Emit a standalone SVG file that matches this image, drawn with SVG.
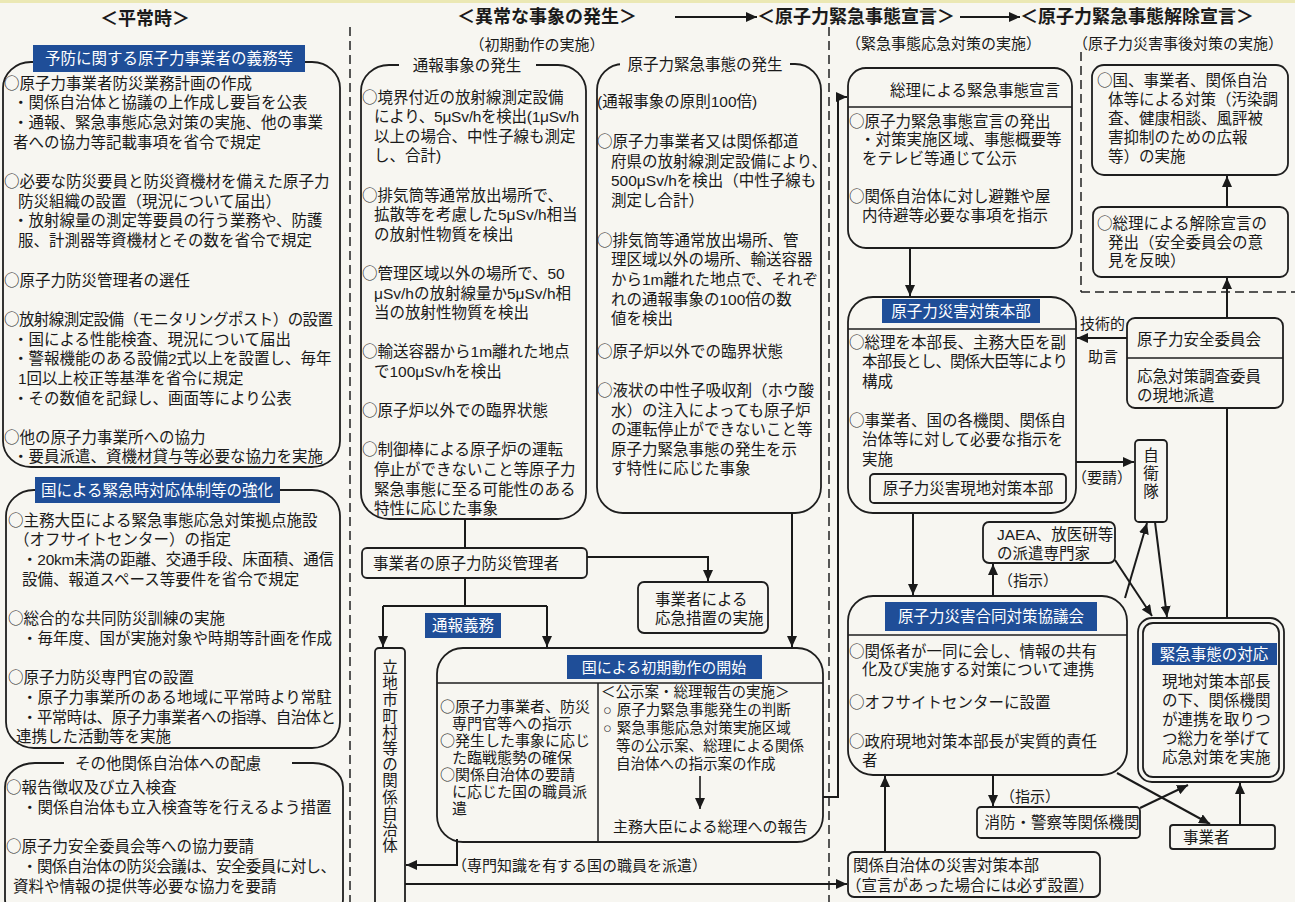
<svg xmlns="http://www.w3.org/2000/svg" width="1295" height="902" viewBox="0 0 1295 902">
<style>
text{font-family:'Liberation Sans','Noto Sans CJK JP',sans-serif;fill:#1a1a1a;font-size:15.5px}
.o{font-family:'Noto Sans CJK JP',sans-serif}
.s{font-size:15px}
.r{font-size:14.5px}
.h{font-size:18px;font-weight:bold}
.w{fill:#fff}
.m{text-anchor:middle}
.bx{fill:#f7f6f1;stroke:#1e1e1e;stroke-width:1.8}
.bl{fill:#1f4e98}
.pg{fill:#f7f6f1}
.dv{stroke:#1e1e1e;stroke-width:1.5}
.ln{fill:none;stroke:#1a1a1a;stroke-width:2}
.dl{fill:none;stroke:#222;stroke-width:1.5;stroke-dasharray:9 5}
</style>
<defs>
<marker id="ah" markerUnits="userSpaceOnUse" markerWidth="12" markerHeight="10" refX="11" refY="5" orient="auto"><path d="M0,0 L11,5 L0,10 z" fill="#1a1a1a"/></marker>
</defs>
<rect width="1295" height="902" fill="#f7f6f1"/>
<rect width="1295" height="3" fill="#ebe8b4"/>

<g id="phase-headers">
<text class="h m" x="145" y="25">＜平常時＞</text>
<text class="h m" x="547" y="23">＜異常な事象の発生＞</text>
<text class="h" x="757" y="23">＜原子力緊急事態宣言＞</text>
<text class="h" x="1020" y="23">＜原子力緊急事態解除宣言＞</text>
<text class="s m" x="537" y="50">（初期動作の実施）</text>
<text class="s" x="846" y="49">（緊急事態応急対策の実施）</text>
<text class="s" x="1073" y="49">（原子力災害事後対策の実施）</text>
</g>

<g id="separators">
<line class="dl" x1="350" y1="27" x2="350" y2="902"/>
<line class="dl" x1="829" y1="27" x2="829" y2="902"/>
<line class="dl" x1="1081" y1="52" x2="1081" y2="292"/>
<line class="dl" x1="1081" y1="292" x2="1295" y2="292"/>
</g>

<g id="node-prevention">
<rect class="bx" x="3" y="62" width="337" height="405" rx="28" ry="26"/>
<rect class="bl" x="33" y="45" width="272" height="27"/>
<text class="w m" x="169" y="64">予防に関する原子力事業者の義務等</text>
<text x="4" y="88.5"><tspan class="o">○</tspan>原子力事業者防災業務計画の作成</text>
<text x="13" y="108.2">・関係自治体と協議の上作成し要旨を公表</text>
<text x="13" y="127.9">・通報、緊急事態応急対策の実施、他の事業</text>
<text x="13" y="147.6">者への協力等記載事項を省令で規定</text>
<text x="4" y="187"><tspan class="o">○</tspan>必要な防災要員と防災資機材を備えた原子力</text>
<text x="18" y="206.7">防災組織の設置（現況について届出）</text>
<text x="13" y="226.4">・放射線量の測定等要員の行う業務や、防護</text>
<text x="18" y="246.1">服、計測器等資機材とその数を省令で規定</text>
<text x="4" y="285.5"><tspan class="o">○</tspan>原子力防災管理者の選任</text>
<text x="4" y="324.9" textLength="329" lengthAdjust="spacing"><tspan class="o">○</tspan>放射線測定設備（モニタリングポスト）の設置</text>
<text x="13" y="344.6">・国による性能検査、現況について届出</text>
<text x="13" y="364.3">・警報機能のある設備2式以上を設置し、毎年</text>
<text x="18" y="384">1回以上校正等基準を省令に規定</text>
<text x="13" y="403.7">・その数値を記録し、画面等により公表</text>
<text x="4" y="443.1"><tspan class="o">○</tspan>他の原子力事業所への協力</text>
<text x="13" y="462.3">・要員派遣、資機材貸与等必要な協力を実施</text>
</g>

<g id="node-state-emergency">
<rect class="bx" x="6" y="490" width="334" height="258" rx="28" ry="26"/>
<rect class="bl" x="35" y="477" width="245" height="26"/>
<text class="w m" x="157" y="495.5">国による緊急時対応体制等の強化</text>
<text x="8" y="525.5"><tspan class="o">○</tspan>主務大臣による緊急事態応急対策拠点施設</text>
<text x="14" y="545.2">（オフサイトセンター）の指定</text>
<text x="22" y="564.9" textLength="312" lengthAdjust="spacing">・20km未満の距離、交通手段、床面積、通信</text>
<text x="22" y="584.6">設備、報道スペース等要件を省令で規定</text>
<text x="8" y="624"><tspan class="o">○</tspan>総合的な共同防災訓練の実施</text>
<text x="22" y="643.7">・毎年度、国が実施対象や時期等計画を作成</text>
<text x="8" y="683.1"><tspan class="o">○</tspan>原子力防災専門官の設置</text>
<text x="22" y="702.8">・原子力事業所のある地域に平常時より常駐</text>
<text x="22" y="722.5" textLength="314" lengthAdjust="spacing">・平常時は、原子力事業者への指導、自治体と</text>
<text x="16" y="742">連携した活動等を実施</text>
</g>

<g id="node-local-gov-care">
<rect class="bx" x="5" y="763" width="338" height="160" rx="30" ry="24"/>
<rect class="pg" x="64" y="752" width="228" height="20"/>
<text class="m" x="168" y="768.5">その他関係自治体への配慮</text>
<text x="6" y="792.5"><tspan class="o">○</tspan>報告徴収及び立入検査</text>
<text x="22" y="812.5">・関係自治体も立入検査等を行えるよう措置</text>
<text x="6" y="852"><tspan class="o">○</tspan>原子力安全委員会等への協力要請</text>
<text x="22" y="872" textLength="314" lengthAdjust="spacing">・関係自治体の防災会議は、安全委員に対し、</text>
<text x="13" y="891.5">資料や情報の提供等必要な協力を要請</text>
</g>

<g id="node-notification-event">
<rect class="bx" x="361" y="65" width="225" height="454" rx="28" ry="26"/>
<rect class="pg" x="399" y="55" width="137" height="20"/>
<text class="m" x="467" y="70.5">通報事象の発生</text>
<text x="362" y="102.5"><tspan class="o">○</tspan>境界付近の放射線測定設備</text>
<text x="374" y="122.1" textLength="205" lengthAdjust="spacing">により、5μSv/hを検出(1μSv/h</text>
<text x="374" y="141.7">以上の場合、中性子線も測定</text>
<text x="374" y="161.3">し、合計)</text>
<text x="362" y="200.5"><tspan class="o">○</tspan>排気筒等通常放出場所で、</text>
<text x="374" y="220.1">拡散等を考慮した5μSv/h相当</text>
<text x="374" y="239.7">の放射性物質を検出</text>
<text x="362" y="278.9"><tspan class="o">○</tspan>管理区域以外の場所で、50</text>
<text x="374" y="298.5">μSv/hの放射線量か5μSv/h相</text>
<text x="374" y="318.1">当の放射性物質を検出</text>
<text x="362" y="357.3"><tspan class="o">○</tspan>輸送容器から1m離れた地点</text>
<text x="374" y="376.9">で100μSv/hを検出</text>
<text x="362" y="416.1"><tspan class="o">○</tspan>原子炉以外での臨界状態</text>
<text x="362" y="455.3"><tspan class="o">○</tspan>制御棒による原子炉の運転</text>
<text x="374" y="474.9">停止ができないこと等原子力</text>
<text x="374" y="494.5">緊急事態に至る可能性のある</text>
<text x="374" y="514">特性に応じた事象</text>
</g>

<g id="node-nuclear-emergency-event">
<rect class="bx" x="597" y="64" width="224" height="449" rx="26" ry="26"/>
<rect class="pg" x="620" y="54" width="170" height="20"/>
<text class="m" x="705" y="69.5">原子力緊急事態の発生</text>
<text x="597" y="107">(通報事象の原則100倍)</text>
<text x="597" y="147"><tspan class="o">○</tspan>原子力事業者又は関係都道</text>
<text x="611" y="166.5">府県の放射線測定設備により、</text>
<text x="611" y="186">500μSv/hを検出（中性子線も</text>
<text x="611" y="205.5">測定し合計）</text>
<text x="597" y="245.5"><tspan class="o">○</tspan>排気筒等通常放出場所、管</text>
<text x="611" y="265.2">理区域以外の場所、輸送容器</text>
<text x="611" y="284.9">から1m離れた地点で、それぞ</text>
<text x="611" y="304.6">れの通報事象の100倍の数</text>
<text x="611" y="324.3">値を検出</text>
<text x="597" y="356.5"><tspan class="o">○</tspan>原子炉以外での臨界状態</text>
<text x="597" y="396"><tspan class="o">○</tspan>液状の中性子吸収剤（ホウ酸</text>
<text x="611" y="415.5">水）の注入によっても原子炉</text>
<text x="611" y="435">の運転停止ができないこと等</text>
<text x="611" y="454.5">原子力緊急事態の発生を示</text>
<text x="611" y="474">す特性に応じた事象</text>
</g>

<g id="node-operator-manager">
<rect class="bx" x="362" y="548" width="225" height="30" rx="5"/>
<text x="373" y="568.5">事業者の原子力防災管理者</text>
</g>

<g id="node-operator-measures">
<rect class="bx" x="638" y="582" width="130" height="51" rx="6"/>
<text x="655" y="604.5">事業者による</text>
<text x="655" y="624">応急措置の実施</text>
</g>

<g id="node-notification-duty">
<rect class="bl" x="425" y="613" width="76" height="25"/>
<text class="w m" x="463" y="631">通報義務</text>
</g>

<g id="node-local-municipalities">
<rect class="bx" x="375" y="648" width="30" height="270" rx="4"/>
<text class="m" x="390" y="673"><tspan x="390">立</tspan><tspan x="390" dy="16.2">地</tspan><tspan x="390" dy="16.2">市</tspan><tspan x="390" dy="16.2">町</tspan><tspan x="390" dy="16.2">村</tspan><tspan x="390" dy="16.2">等</tspan><tspan x="390" dy="16.2">の</tspan><tspan x="390" dy="16.2">関</tspan><tspan x="390" dy="16.2">係</tspan><tspan x="390" dy="16.2">自</tspan><tspan x="390" dy="16.2">治</tspan><tspan x="390" dy="16.2">体</tspan></text>
</g>

<g id="node-initial-action">
<rect class="bx" x="437" y="648" width="386" height="194" rx="26" ry="26"/>
<rect class="bl" x="567" y="655" width="195" height="24"/>
<text class="w m s" x="664" y="672.5">国による初期動作の開始</text>
<line class="dv" x1="437" y1="683" x2="823" y2="683"/>
<line class="dv" x1="598" y1="683" x2="598" y2="842"/>
<text class="s" x="440" y="711.5"><tspan class="o">○</tspan>原子力事業者、防災</text>
<text class="s" x="452" y="728.5">専門官等への指示</text>
<text class="s" x="440" y="745.5"><tspan class="o">○</tspan>発生した事象に応じ</text>
<text class="s" x="452" y="762.5">た臨戦態勢の確保</text>
<text class="s" x="440" y="779.5"><tspan class="o">○</tspan>関係自治体の要請</text>
<text class="s" x="452" y="796.5">に応じた国の職員派</text>
<text class="s" x="452" y="813.5">遣</text>
<text class="r" x="601" y="697">＜公示案・総理報告の実施＞</text>
<text class="r" x="603" y="715">○<tspan dx="5">原子力緊急事態発生の判断</tspan></text>
<text class="r" x="603" y="733">○<tspan dx="5">緊急事態応急対策実施区域</tspan></text>
<text class="r" x="616" y="751">等の公示案、総理による関係</text>
<text class="r" x="616" y="769">自治体への指示案の作成</text>
<line x1="700" y1="776" x2="700" y2="809" stroke="#1a1a1a" stroke-width="1.6" marker-end="url(#ah)"/>
<text class="s" x="613" y="831.5">主務大臣による総理への報告</text>
</g>

<g id="node-pm-declaration">
<rect class="bx" x="848" y="68" width="224" height="180" rx="18"/>
<line class="dv" x1="848" y1="107" x2="1072" y2="107"/>
<text class="m" x="975" y="95.5">総理による緊急事態宣言</text>
<text x="849" y="126.5"><tspan class="o">○</tspan>原子力緊急事態宣言の発出</text>
<text x="860" y="144.5">・対策実施区域、事態概要等</text>
<text x="862" y="163.5">をテレビ等通じて公示</text>
<text x="849" y="201.5"><tspan class="o">○</tspan>関係自治体に対し避難や屋</text>
<text x="862" y="220.5">内待避等必要な事項を指示</text>
</g>

<g id="node-hq">
<rect class="bx" x="848" y="297" width="228" height="216" rx="25"/>
<rect class="bl" x="882" y="299" width="158" height="24"/>
<text class="w m" x="961" y="316.5">原子力災害対策本部</text>
<line class="dv" x1="848" y1="329" x2="1076" y2="329"/>
<text x="849" y="347.5"><tspan class="o">○</tspan>総理を本部長、主務大臣を副</text>
<text x="862" y="367" textLength="206" lengthAdjust="spacing">本部長とし、関係大臣等により</text>
<text x="862" y="386.5">構成</text>
<text x="849" y="425.5"><tspan class="o">○</tspan>事業者、国の各機関、関係自</text>
<text x="862" y="445">治体等に対して必要な指示を</text>
<text x="862" y="464.5">実施</text>
<rect class="bx" x="870" y="474" width="196" height="29" rx="4"/>
<text class="m" x="968" y="494">原子力災害現地対策本部</text>
</g>

<g id="node-nsc">
<rect class="bx" x="1127" y="318" width="156" height="90" rx="8"/>
<line class="dv" x1="1127" y1="358" x2="1283" y2="358"/>
<text x="1137" y="344.5">原子力安全委員会</text>
<text x="1137" y="381.5">応急対策調査委員</text>
<text x="1137" y="400.5">の現地派遣</text>
</g>

<g id="node-sdf">
<rect class="bx" x="1135" y="440" width="32" height="82" rx="4"/>
<text class="m" x="1151" y="461"><tspan x="1151">自</tspan><tspan x="1151" dy="18">衛</tspan><tspan x="1151" dy="18">隊</tspan></text>
</g>

<g id="node-experts">
<rect class="bx" x="983" y="522" width="132" height="41" rx="6"/>
<text x="997" y="540">JAEA、放医研等</text>
<text x="997" y="558.5">の派遣専門家</text>
</g>

<g id="node-joint-council">
<rect class="bx" x="848" y="596" width="279" height="179" rx="25"/>
<rect class="bl" x="885" y="602" width="212" height="29"/>
<text class="w m" x="991" y="622">原子力災害合同対策協議会</text>
<line class="dv" x1="848" y1="635" x2="1127" y2="635"/>
<text x="849" y="656.5"><tspan class="o">○</tspan>関係者が一同に会し、情報の共有</text>
<text x="862" y="674.5">化及び実施する対策について連携</text>
<text x="849" y="707.5"><tspan class="o">○</tspan>オフサイトセンターに設置</text>
<text x="849" y="746.5"><tspan class="o">○</tspan>政府現地対策本部長が実質的責任</text>
<text x="862" y="765.5">者</text>
</g>

<g id="node-fire-police">
<rect class="bx" x="977" y="807" width="163" height="31" rx="4"/>
<text class="m" x="1062" y="828">消防・警察等関係機関</text>
</g>

<g id="node-operator">
<rect class="bx" x="1170" y="825" width="105" height="24" rx="3"/>
<text x="1183" y="842.5">事業者</text>
</g>

<g id="node-emergency-response">
<rect class="bx" x="1138" y="618" width="146" height="164" rx="14"/>
<rect fill="none" stroke="#1e1e1e" stroke-width="1.8" x="1143" y="623" width="136" height="154" rx="10"/>
<rect class="bl" x="1152" y="643" width="125" height="22"/>
<text class="w m" x="1214" y="659.5">緊急事態の対応</text>
<text x="1162" y="686.5">現地対策本部長</text>
<text x="1162" y="705.5">の下、関係機関</text>
<text x="1162" y="724.5">が連携を取りつ</text>
<text x="1162" y="743.5">つ総力を挙げて</text>
<text x="1162" y="763">応急対策を実施</text>
</g>

<g id="node-local-hq">
<rect class="bx" x="848" y="852" width="252" height="45" rx="6"/>
<text x="853" y="871">関係自治体の災害対策本部</text>
<text x="846" y="890.5">（宣言があった場合には必ず設置）</text>
</g>

<g id="node-post-measures">
<rect class="bx" x="1092" y="65" width="196" height="110" rx="12"/>
<text x="1097" y="85.5"><tspan class="o">○</tspan>国、事業者、関係自治</text>
<text x="1108" y="104.5">体等による対策（汚染調</text>
<text x="1108" y="123.5">査、健康相談、風評被</text>
<text x="1108" y="142.5">害抑制のための広報</text>
<text x="1108" y="162">等）の実施</text>
</g>

<g id="node-lift-declaration">
<rect class="bx" x="1093" y="207" width="195" height="70" rx="8"/>
<text x="1097" y="229"><tspan class="o">○</tspan>総理による解除宣言の</text>
<text x="1108" y="247.5">発出（安全委員会の意</text>
<text x="1108" y="266">見を反映）</text>
</g>

<g id="edge-labels">
<text class="s" x="1080" y="329">技術的</text>
<text class="s" x="1088" y="361.5">助言</text>
<text class="s" x="1072" y="482.5">（要請）</text>
<text class="s" x="998" y="585.5">（指示）</text>
<text class="s" x="1000" y="802">（指示）</text>
<text class="s" x="452" y="870.5">（専門知識を有する国の職員を派遣）</text>
</g>

<g id="connectors">
<line class="ln" x1="675" y1="17" x2="757" y2="17" marker-end="url(#ah)"/>
<line class="ln" x1="960" y1="17" x2="1020" y2="17" marker-end="url(#ah)"/>
<line class="ln" x1="465" y1="519" x2="465" y2="548"/>
<polyline class="ln" points="465,578 465,606"/>
<line class="ln" x1="383" y1="606" x2="547" y2="606"/>
<line class="ln" x1="383" y1="606" x2="383" y2="647" marker-end="url(#ah)"/>
<line class="ln" x1="547" y1="606" x2="547" y2="647" marker-end="url(#ah)"/>
<polyline class="ln" points="587,557 708,557 708,581" marker-end="url(#ah)"/>
<line class="ln" x1="792" y1="513" x2="792" y2="647" marker-end="url(#ah)"/>
<polyline class="ln" points="823,797 838,797 838,97 847,97" marker-end="url(#ah)"/>
<polyline class="ln" points="457,839 457,865 406,865" marker-end="url(#ah)"/>
<line class="ln" x1="405" y1="884" x2="847" y2="884" marker-end="url(#ah)"/>
<line class="ln" x1="910" y1="248" x2="910" y2="296" marker-end="url(#ah)"/>
<line class="ln" x1="913" y1="513" x2="913" y2="595" marker-end="url(#ah)"/>
<line class="ln" x1="1127" y1="338" x2="1077" y2="338" marker-end="url(#ah)"/>
<line class="ln" x1="1076" y1="462" x2="1134" y2="462" marker-end="url(#ah)"/>
<line class="ln" x1="993" y1="596" x2="993" y2="564" marker-end="url(#ah)"/>
<line class="ln" x1="1125" y1="598" x2="1147" y2="523" marker-end="url(#ah)"/>
<line class="ln" x1="1155" y1="522" x2="1167" y2="617" marker-end="url(#ah)"/>
<line class="ln" x1="1115" y1="560" x2="1152" y2="616" marker-end="url(#ah)"/>
<line class="ln" x1="993" y1="775" x2="993" y2="806" marker-end="url(#ah)"/>
<line class="ln" x1="1140" y1="808" x2="1188" y2="785" marker-end="url(#ah)"/>
<line class="ln" x1="1117" y1="773" x2="1210" y2="824" marker-end="url(#ah)"/>
<line class="ln" x1="1240" y1="825" x2="1240" y2="783" marker-end="url(#ah)"/>
<line class="ln" x1="1227" y1="618" x2="1227" y2="408"/>
<line class="ln" x1="1227" y1="318" x2="1227" y2="278" marker-end="url(#ah)"/>
<line class="ln" x1="1227" y1="207" x2="1227" y2="176" marker-end="url(#ah)"/>
<line class="ln" x1="885" y1="852" x2="885" y2="776" marker-end="url(#ah)"/>
</g>
</svg>
